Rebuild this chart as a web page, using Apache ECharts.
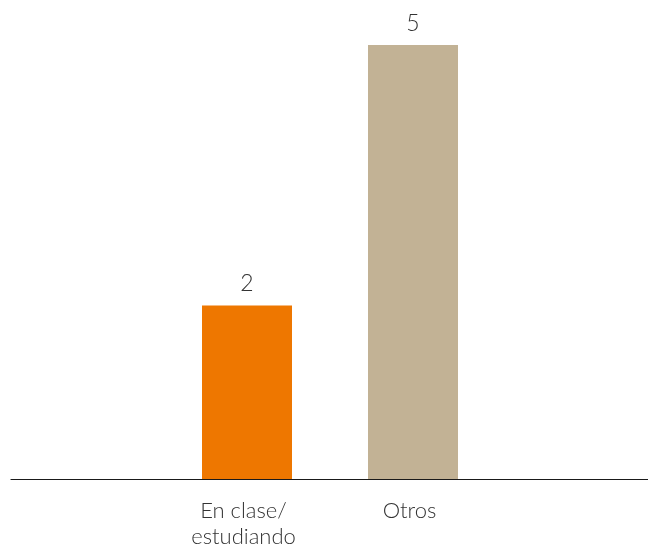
<!DOCTYPE html>
<html>
<head>
<meta charset="utf-8">
<style>
  html, body { margin: 0; padding: 0; background: #fff; }
  #chart { width: 648px; height: 547px; }
</style>
<script src="https://cdn.jsdelivr.net/npm/echarts@6/dist/echarts.min.js"></script>
</head>
<body>
<div id="chart"></div>
<script>
// Categories and values
const categories = ['En clase/\nestudiando', 'Otros'];
const values = [2, 5];
const barColors = ['#EE7700', '#C2B295'];

const FONT = 'Lato, "Open Sans", sans-serif';
const chart = echarts.init(document.getElementById('chart'), null, { renderer: 'canvas' });

chart.setOption({
  backgroundColor: '#ffffff',
  animation: false,
  grid: [
    // grid holding the bars
    { left: 164, right: 152, top: 45, bottom: 68, containLabel: false, outerBoundsMode: 'none' },
    // full-width grid used only for the baseline
    { left: 11, right: 0, top: 45, bottom: 68, containLabel: false, outerBoundsMode: 'none' }
  ],
  xAxis: [
    {
      type: 'category',
      gridIndex: 0,
      data: categories,
      axisLine: { show: false },
      axisTick: { show: false },
      axisLabel: {
        margin: 19,
        fontFamily: FONT,
        fontWeight: 300,
        fontSize: 22,
        lineHeight: 26,
        color: '#333333',
        padding: [0, 7, 0, 0]
      }
    },
    {
      type: 'value',
      gridIndex: 1,
      min: 0, max: 1,
      axisLine: { show: true, onZero: false, lineStyle: { color: '#1a1a1a', width: 1.2 } },
      axisTick: { show: false },
      axisLabel: { show: false },
      splitLine: { show: false }
    }
  ],
  yAxis: [
    { type: 'value', gridIndex: 0, min: 0, max: 5, show: false },
    { type: 'value', gridIndex: 1, min: 0, max: 5, show: false }
  ],
  series: [{
    type: 'bar',
    xAxisIndex: 0,
    yAxisIndex: 0,
    barWidth: 90,
    data: values.map((v, i) => ({ value: v, itemStyle: { color: barColors[i] } })),
    label: {
      show: true,
      position: 'top',
      distance: 10,
      fontFamily: FONT,
      fontWeight: 300,
      fontSize: 23,
      color: '#333333'
    }
  }]
});
</script>
</body>
</html>
